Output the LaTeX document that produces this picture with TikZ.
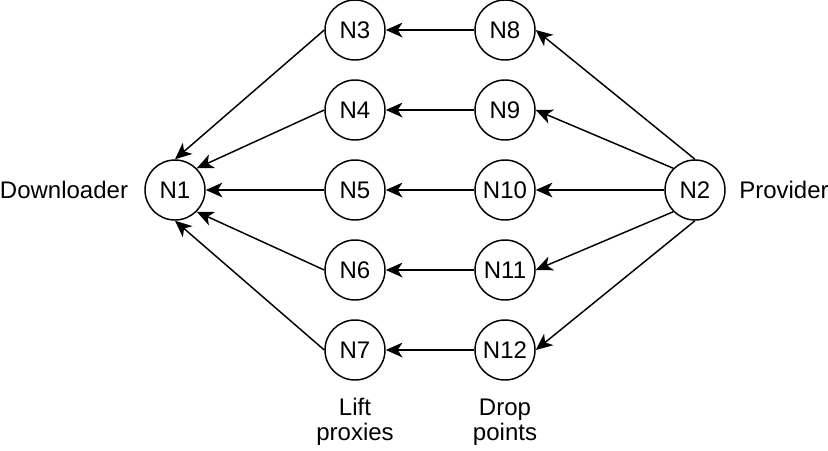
\documentclass[tikz,border=0pt]{standalone}
\usepackage{fontspec}
\setmainfont{Liberation Sans}
\usetikzlibrary{arrows.meta}
\begin{document}
\begin{tikzpicture}[x=0.75pt,y=-0.75pt,
  nd/.style={circle,draw,line width=1.1pt,minimum size=45pt,inner sep=0pt,font=\fontsize{18}{19}\selectfont},
  lbl/.style={font=\fontsize{18}{19}\selectfont,align=center,inner sep=0pt},
  ar/.style={line width=1.1pt,-{Stealth[length=12.5pt,width=11pt,inset=3.5pt]}}]
\useasboundingbox (0,0) rectangle (828,450);
\node[nd] (n1) at (175,190) {N1};
\node[nd] (n2) at (695,190) {N2};
\node[nd] (n3) at (355,30) {N3};
\node[nd] (n4) at (355,110) {N4};
\node[nd] (n5) at (355,190) {N5};
\node[nd] (n6) at (355,270) {N6};
\node[nd] (n7) at (355,350) {N7};
\node[nd] (n8) at (505,30) {N8};
\node[nd] (n9) at (505,110) {N9};
\node[nd] (n10) at (505,190) {N10};
\node[nd] (n11) at (505,270) {N11};
\node[nd] (n12) at (505,350) {N12};
\node[lbl] (dl) at (64,190) {Downloader};
\node[lbl] (pv) at (784,190) {Provider};
\node[lbl] (lp) at (355,422) {Lift\\proxies};
\node[lbl] (dp) at (505,422) {Drop\\points};
\draw[ar] (n3.west) -- (n1.north);
\draw[ar] (n4.west) -- (n1.north east);
\draw[ar] (n5.west) -- (n1.east);
\draw[ar] (n6.west) -- (n1.south east);
\draw[ar] (n7.west) -- (n1.south);
\draw[ar] (n8.west) -- (n3.east);
\draw[ar] (n9.west) -- (n4.east);
\draw[ar] (n10.west) -- (n5.east);
\draw[ar] (n11.west) -- (n6.east);
\draw[ar] (n12.west) -- (n7.east);
\draw[ar] (n2.north) -- (n8.east);
\draw[ar] (n2.north west) -- (n9.east);
\draw[ar] (n2.west) -- (n10.east);
\draw[ar] (n2.south west) -- (n11.east);
\draw[ar] (n2.south) -- (n12.east);
\end{tikzpicture}
\end{document}
